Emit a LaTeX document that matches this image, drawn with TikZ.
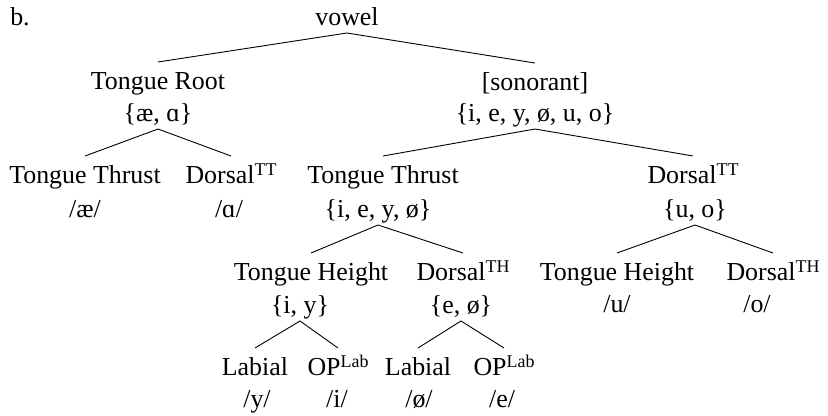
\documentclass[tikz,border=0pt]{standalone}
\usepackage{fontspec}
\setmainfont{Liberation Serif}
\newcommand{\sps}[1]{\raisebox{8bp}{\fontsize{18}{18}\selectfont #1}}
\begin{document}
\begin{tikzpicture}[x=1bp,y=-1bp,
  lbl/.style={anchor=base,inner sep=0pt,outer sep=0pt,text height=27bp,text depth=8bp,font=\fontsize{26}{31}\selectfont},
  edge/.style={line width=0.9bp}]
\useasboundingbox (0,0) rectangle (828,415);
\node[lbl] (b) at (20,25) {b.};
\node[lbl] (vowel) at (347,25) {vowel};
\node[lbl] (troot) at (158,89) {Tongue Root};
\node[lbl] (trset) at (158,121) {\{æ, ɑ\}};
\node[lbl] (son) at (535,90) {[sonorant]};
\node[lbl] (sonset) at (535,121) {\{i, e, y, ø, u, o\}};
\node[lbl] (tt1) at (85,183) {Tongue Thrust};
\node[lbl] (tt1s) at (85,217) {/æ/};
\node[lbl] (dtt1) at (231,183) {Dorsal\sps{TT}};
\node[lbl] (dtt1s) at (229,217) {/ɑ/};
\node[lbl] (tt2) at (383,183) {Tongue Thrust};
\node[lbl] (tt2s) at (378,217) {\{i, e, y, ø\}};
\node[lbl] (dtt2) at (693,183) {Dorsal\sps{TT}};
\node[lbl] (dtt2s) at (695,217) {\{u, o\}};
\node[lbl] (th1) at (311,280) {Tongue Height};
\node[lbl] (th1s) at (300,313) {\{i, y\}};
\node[lbl] (dth1) at (463,280) {Dorsal\sps{TH}};
\node[lbl] (dth1s) at (461,313) {\{e, ø\}};
\node[lbl] (th2) at (617,280) {Tongue Height};
\node[lbl] (th2s) at (617,312) {/u/};
\node[lbl] (dth2) at (773,280) {Dorsal\sps{TH}};
\node[lbl] (dth2s) at (757,312) {/o/};
\node[lbl] (lab1) at (255,375) {Labial};
\node[lbl] (lab1s) at (257,407) {/y/};
\node[lbl] (op1) at (338,375) {OP\sps{Lab}};
\node[lbl] (op1s) at (337,407) {/i/};
\node[lbl] (lab2) at (418,375) {Labial};
\node[lbl] (lab2s) at (419,407) {/ø/};
\node[lbl] (op2) at (504,375) {OP\sps{Lab}};
\node[lbl] (op2s) at (502,407) {/e/};
\draw[edge] (troot.north) -- (vowel.south) -- (son.north);
\draw[edge] (tt1.north) -- (trset.south) -- (dtt1.north);
\draw[edge] (tt2.north) -- (sonset.south) -- (dtt2.north);
\draw[edge] (th1.north) -- (tt2s.south) -- (dth1.north);
\draw[edge] (th2.north) -- (dtt2s.south) -- (dth2.north);
\draw[edge] (lab1.north) -- (th1s.south) -- (op1.north);
\draw[edge] (lab2.north) -- (dth1s.south) -- (op2.north);
\end{tikzpicture}
\end{document}
